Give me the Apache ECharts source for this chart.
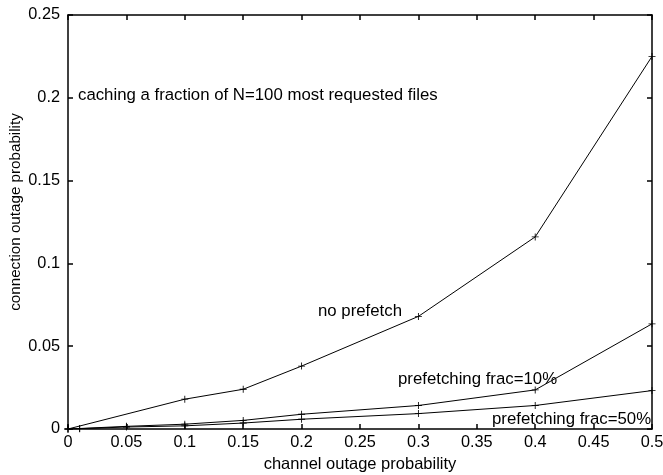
<!DOCTYPE html>
<html>
<head>
<meta charset="utf-8">
<script src="https://cdn.jsdelivr.net/npm/echarts@6/dist/echarts.min.js"></script>
<style>
  html, body { margin: 0; padding: 0; background: #fff; }
  #chart { width: 663px; height: 475px; }
</style>
</head>
<body>
<div id="chart"></div>
<script>
// values
const xNoPrefetch = [0, 0.1, 0.15, 0.2, 0.3, 0.4, 0.5]
const noPrefetch = [0, 0.018, 0.024, 0.038, 0.068, 0.116, 0.225]
const xPrefetch = [0, 0.01, 0.05, 0.1, 0.15, 0.2, 0.3, 0.4, 0.5]
const frac10 = [0, 0.0003, 0.0016, 0.0029, 0.0052, 0.0089, 0.0142, 0.0236, 0.0635]
const frac50 = [0, 0.0002, 0.0012, 0.0019, 0.0036, 0.0059, 0.0093, 0.0142, 0.0232]

const FONT = 'Liberation Sans'
const plus = 'path://M4.4,0h1.2v4.4h4.4v1.2h-4.4v4.4h-1.2v-4.4h-4.4v-1.2h4.4z'

const pairs = (xs, ys) => xs.map((x, i) => [x, ys[i]])

const axisBase = {
  min: 0,
  axisLine: { show: true, onZero: false, lineStyle: { color: '#000', width: 1.5 } },
  axisTick: { show: true, inside: true, length: 5, lineStyle: { color: '#000', width: 1.5 } },
  splitLine: { show: false }
}

const lineSeries = (name, data) => ({
  name: name,
  type: 'line',
  data: data,
  xAxisIndex: 0, yAxisIndex: 0,
  symbol: plus,
  symbolSize: 7,
  showAllSymbol: true,
  itemStyle: { color: '#000' },
  lineStyle: { color: '#000', width: 1 },
  animation: false
})

const label = (left, top, text) => ({
  type: 'text', left: left, top: top,
  style: { text: text, font: '16.8px "' + FONT + '"', fill: '#000' }
})

const option = {
  backgroundColor: '#fff',
  textStyle: { fontFamily: FONT },
  animation: false,
  grid: { left: 68, right: 11, top: 15, bottom: 46, containLabel: false, outerBoundsMode: 'none' },
  xAxis: [
    Object.assign({}, axisBase, {
      type: 'value', position: 'bottom', max: 0.5, interval: 0.05,
      name: 'channel outage probability', nameLocation: 'middle', nameGap: 26,
      nameTextStyle: { color: '#000', fontSize: 16.5, fontFamily: FONT },
      axisLabel: { color: '#000', fontSize: 16.3, fontFamily: FONT, margin: 6 }
    }),
    Object.assign({}, axisBase, {
      type: 'value', position: 'top', max: 0.5, interval: 0.05,
      axisLabel: { show: false }
    })
  ],
  yAxis: [
    Object.assign({}, axisBase, {
      type: 'value', position: 'left', max: 0.25, interval: 0.05,
      axisLabel: { color: '#000', fontSize: 16.3, fontFamily: FONT, margin: 8 }
    }),
    Object.assign({}, axisBase, {
      type: 'value', position: 'right', max: 0.25, interval: 0.05,
      axisLabel: { show: false }
    })
  ],
  series: [
    lineSeries('no prefetch', pairs(xNoPrefetch, noPrefetch)),
    lineSeries('prefetching frac=10%', pairs(xPrefetch, frac10)),
    lineSeries('prefetching frac=50%', pairs(xPrefetch, frac50))
  ],
  graphic: [
    {
      type: 'text', x: 16, y: 212, rotation: Math.PI / 2,
      style: {
        text: 'connection outage probability', font: '15.2px "' + FONT + '"',
        fill: '#000', align: 'center', verticalAlign: 'middle'
      }
    },
    label(78, 87, 'caching a fraction of N=100 most requested files'),
    label(318, 303, 'no prefetch'),
    label(398, 371, 'prefetching frac=10%'),
    label(492, 411, 'prefetching frac=50%')
  ]
}

const chart = echarts.init(document.getElementById('chart'))
chart.setOption(option)
</script>
</body>
</html>
